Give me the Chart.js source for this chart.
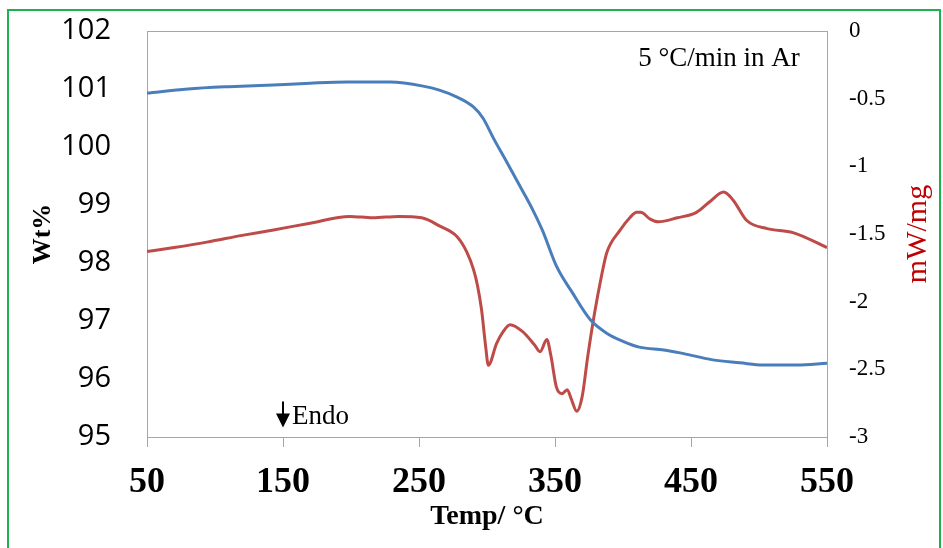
<!DOCTYPE html>
<html>
<head>
<meta charset="utf-8">
<script src="https://cdn.jsdelivr.net/npm/chart.js@4.4.1/dist/chart.umd.min.js"></script>
<style>
  body { margin: 0; background: #ffffff; }
  #frame { position: absolute; left: 7px; top: 9px; width: 930px; height: 545px; border: 2px solid #1fb04f; }
  #plot { position: absolute; left: 0; top: 0; }
</style>
</head>
<body>
<div id="frame"></div>
<canvas id="plot" width="943" height="548"></canvas>
<script>
"use strict";

// TGA curve (weight %, left axis)
var tgaTemp = [50, 80, 110, 143, 170, 197, 229, 253, 265, 278, 290, 297, 305, 315, 326, 334, 341, 351, 363, 376, 388, 400, 412, 430, 442, 466, 486, 503, 528, 550];
var tgaWt   = [100.93, 101.00, 101.04, 101.07, 101.10, 101.12, 101.12, 101.05, 100.98, 100.86, 100.69, 100.50, 100.14, 99.72, 99.25, 98.90, 98.55, 97.95, 97.48, 97.02, 96.79, 96.65, 96.55, 96.50, 96.45, 96.33, 96.28, 96.24, 96.24, 96.27];

// DSC curve (mW/mg, right axis)
var dscTemp = [50, 70, 94, 120, 143, 170, 199, 216, 235, 252, 265, 278, 285, 290, 293, 296, 299, 301, 307, 312, 317, 326, 335, 339, 344, 347, 351, 355, 359, 362, 366, 370, 374, 379, 384, 388, 398, 405, 410, 413, 420, 426, 440, 454, 464, 474, 481, 491, 506, 525, 550];
var dscHeat = [-1.63, -1.60, -1.56, -1.51, -1.47, -1.42, -1.37, -1.38, -1.37, -1.38, -1.44, -1.52, -1.63, -1.76, -1.88, -2.06, -2.33, -2.47, -2.31, -2.22, -2.17, -2.22, -2.32, -2.37, -2.28, -2.40, -2.63, -2.68, -2.65, -2.72, -2.81, -2.70, -2.41, -2.09, -1.82, -1.64, -1.47, -1.38, -1.34, -1.34, -1.39, -1.41, -1.38, -1.34, -1.26, -1.19, -1.25, -1.40, -1.46, -1.49, -1.60];

// axis ranges and ticks
var tempTicks = [50, 550, 100];
var wtTicks = [95, 102, 1];
var heatTicks = [-3, 0, 0.5];

var serif = '"Liberation Serif", "Times New Roman", serif';

function toPoints(xs, ys) {
	return xs.map(function(x, i) { return { x: x, y: ys[i] }; });
}

// fixed box size, no extra room for overhanging labels
function fixBox(w, h) {
	return function(scale) {
		if (w) scale.width = w;
		if (h) scale.height = h;
		scale.paddingTop = 0;
		scale.paddingBottom = 0;
		scale.paddingLeft = 0;
		scale.paddingRight = 0;
	};
}

// plot frame, right axis title and the text notes
var notesPlugin = {
	id: 'notes',
	beforeDatasetsDraw: function(chart) {
		var a = chart.chartArea, ctx = chart.ctx;
		ctx.save();
		ctx.strokeStyle = '#a6a6a6';
		ctx.lineWidth = 1;
		ctx.strokeRect(a.left + 0.5, a.top + 0.5, a.right - a.left, a.bottom - a.top);
		ctx.restore();
	},
	afterDraw: function(chart) {
		var ctx = chart.ctx, a = chart.chartArea;
		var sx = chart.scales.x, sy = chart.scales.y;
		ctx.save();

		// right axis title, reads bottom to top
		ctx.translate(918, (a.top + a.bottom) / 2);
		ctx.rotate(-Math.PI / 2);
		ctx.fillStyle = '#c00000';
		ctx.font = '30px ' + serif;
		ctx.textAlign = 'center';
		ctx.textBaseline = 'middle';
		ctx.fillText('mW/mg', 0, 0);
		ctx.setTransform(1, 0, 0, 1, 0, 0);

		// heating rate note
		ctx.fillStyle = '#000000';
		ctx.font = '27px ' + serif;
		ctx.textAlign = 'right';
		ctx.textBaseline = 'alphabetic';
		ctx.fillText('5 °C/min in Ar', sx.getPixelForValue(530), sy.getPixelForValue(101.4));

		// endo arrow
		var ax = sx.getPixelForValue(150);
		var ay = sy.getPixelForValue(95.2);
		ctx.strokeStyle = '#000000';
		ctx.lineWidth = 2;
		ctx.beginPath();
		ctx.moveTo(ax, ay - 24);
		ctx.lineTo(ax, ay - 10);
		ctx.stroke();
		ctx.beginPath();
		ctx.moveTo(ax - 7, ay - 12);
		ctx.lineTo(ax + 7, ay - 12);
		ctx.lineTo(ax, ay + 2);
		ctx.closePath();
		ctx.fill();
		ctx.font = '27px ' + serif;
		ctx.textAlign = 'left';
		ctx.fillText('Endo', ax + 9, ay - 1);
		ctx.restore();
	}
};

var chart = new Chart(document.getElementById('plot').getContext('2d'), {
	type: 'line',
	data: {
		datasets: [{
			label: 'Wt%',
			data: toPoints(tgaTemp, tgaWt),
			yAxisID: 'y',
			borderColor: '#4a7ebb',
			borderWidth: 3,
			pointRadius: 0,
			cubicInterpolationMode: 'monotone'
		}, {
			label: 'mW/mg',
			data: toPoints(dscTemp, dscHeat),
			yAxisID: 'y2',
			borderColor: '#be4b48',
			borderWidth: 3,
			pointRadius: 0,
			cubicInterpolationMode: 'monotone'
		}]
	},
	options: {
		responsive: false,
		animation: false,
		devicePixelRatio: 1,
		layout: { padding: { left: 28, right: 8, top: 31, bottom: 14 } },
		plugins: {
			legend: { display: false },
			tooltip: { enabled: false }
		},
		scales: {
			x: {
				type: 'linear',
				min: tempTicks[0],
				max: tempTicks[1],
				ticks: { stepSize: tempTicks[2], color: '#000000', padding: 14, maxRotation: 0,
					font: { family: serif, weight: 'bold', size: 36 } },
				grid: { display: true, drawOnChartArea: false, drawTicks: true, tickLength: 10, color: '#a6a6a6' },
				border: { display: false },
				title: { display: true, text: 'Temp/ °C', color: '#000000', padding: 0,
					font: { family: serif, weight: 'bold', size: 28 } },
				afterFit: fixBox(0, 97)
			},
			y: {
				position: 'left',
				min: wtTicks[0],
				max: wtTicks[1],
				ticks: { stepSize: wtTicks[2], color: '#000000', padding: 28,
					font: { family: '"Open Sans", sans-serif', size: 29 } },
				grid: { display: false },
				border: { display: false },
				title: { display: true, text: 'Wt%', color: '#000000', padding: 0,
					font: { family: serif, weight: 'bold', size: 26 } },
				afterFit: fixBox(119, 0)
			},
			y2: {
				position: 'right',
				min: heatTicks[0],
				max: heatTicks[1],
				ticks: { stepSize: heatTicks[2], color: '#000000', padding: 14,
					font: { family: serif, size: 23 },
					callback: function(v) { return String(v); } },
				grid: { display: false },
				border: { display: false },
				afterFit: fixBox(108, 0)
			}
		}
	},
	plugins: [notesPlugin]
});
</script>
</body>
</html>
